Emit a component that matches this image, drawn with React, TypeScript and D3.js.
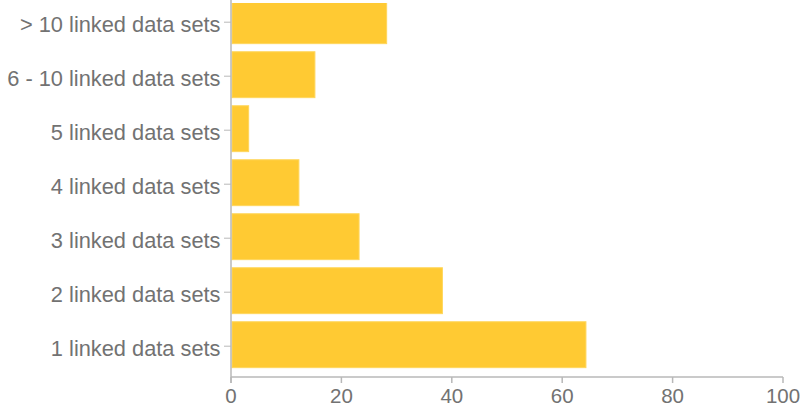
import React from "react";
import * as d3 from "d3";

const categories = [
  "> 10 linked data sets",
  "6 - 10 linked data sets",
  "5 linked data sets",
  "4 linked data sets",
  "3 linked data sets",
  "2 linked data sets",
  "1 linked data sets",
];
const values = [28.2, 15.2, 3.2, 12.3, 23.2, 38.3, 64.3];
const xTicks = [0, 20, 40, 60, 80, 100];

const W = 808;
const H = 411;
const FONT = "'Liberation Sans', Arial, Helvetica, sans-serif";

export default function App() {
  const x = d3.scaleLinear().domain([0, 100]).range([231, 783]);
  const y = d3
    .scaleBand<string>()
    .domain(categories)
    .range([-6.3, 371.7])
    .paddingInner(0.15)
    .paddingOuter(0.075);
  const axisY = 377;
  const textColor = "#727272";
  const axisColor = "#b8b8b8";

  return (
    <svg
      width={W}
      height={H}
      style={{ position: "absolute", left: 0, top: 0, background: "#fff" }}
    >
      <defs>
        <clipPath id="plotclip">
          <rect x={0} y={3} width={W} height={H} />
        </clipPath>
      </defs>
      <g clipPath="url(#plotclip)">
        {categories.map((c, i) => (
          <rect
            key={c}
            x={x(0) + 1}
            y={y(c)!}
            width={x(values[i]) - x(0) - 1}
            height={y.bandwidth()}
            fill="#ffca33"
            stroke="#ffd65c"
            strokeWidth={1}
          />
        ))}
      </g>
      {/* left axis */}
      <line x1={x(0)} x2={x(0)} y1={0} y2={axisY + 6} stroke={axisColor} strokeWidth={1.5} />
      {categories.map((c) => {
        const cy = y(c)! + y.bandwidth() / 2;
        return (
          <g key={c}>
            <line x1={x(0) - 7} x2={x(0)} y1={cy + 1.5} y2={cy + 1.5} stroke={axisColor} strokeWidth={1} />
            <text
              x={x(0) - 10.5}
              y={cy + 11}
              textAnchor="end"
              fontFamily={FONT}
              fontSize={21.8}
              fill={textColor}
            >
              {c}
            </text>
          </g>
        );
      })}
      {/* bottom axis */}
      <line x1={x(0)} x2={x(100)} y1={axisY} y2={axisY} stroke={axisColor} strokeWidth={1.5} />
      {xTicks.map((t) => (
        <g key={t}>
          <line x1={x(t)} x2={x(t)} y1={axisY} y2={axisY + 6} stroke={axisColor} strokeWidth={1.5} />
          <text
            x={x(t)}
            y={403}
            textAnchor="middle"
            fontFamily={FONT}
            fontSize={20.5}
            fill={textColor}
          >
            {t}
          </text>
        </g>
      ))}
    </svg>
  );
}
